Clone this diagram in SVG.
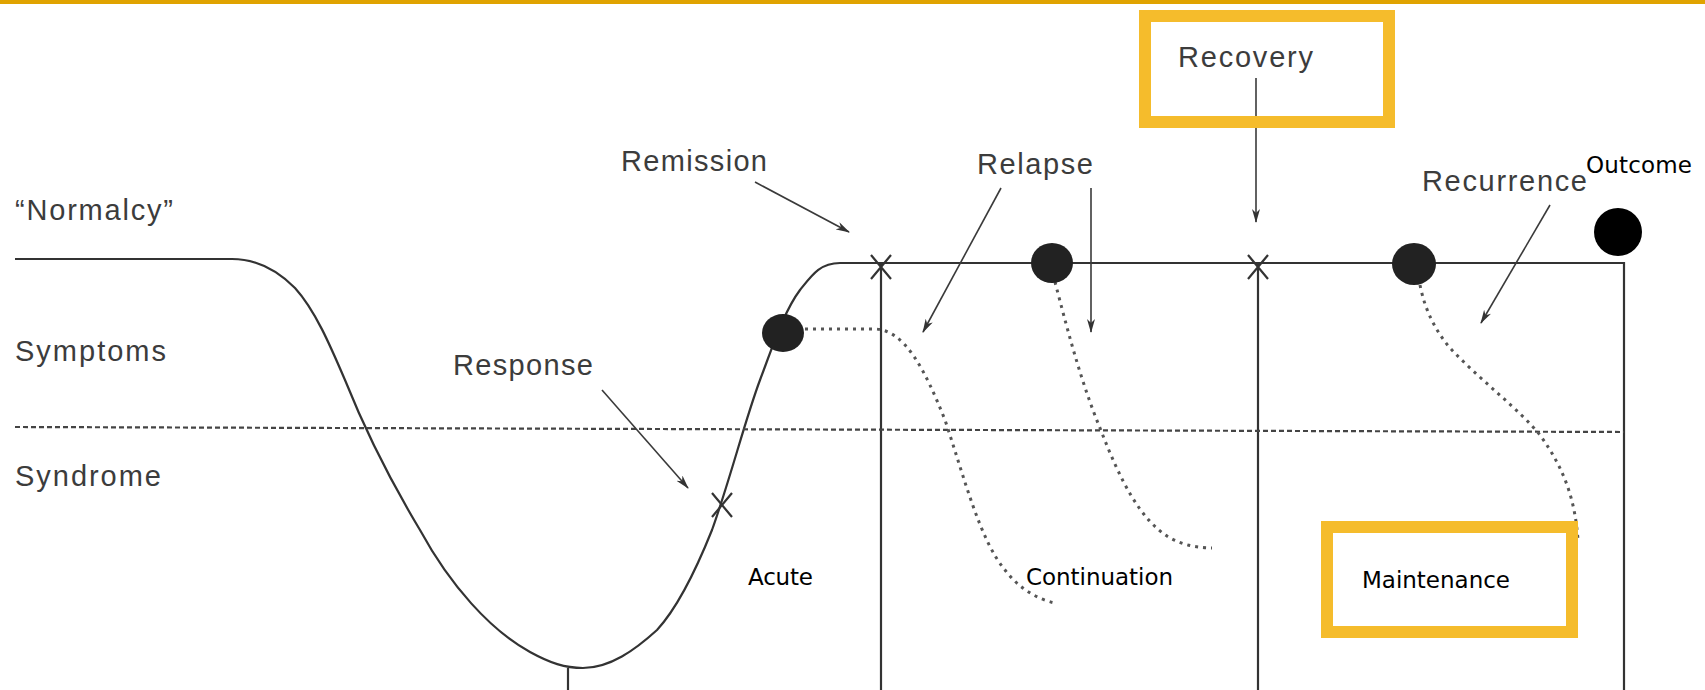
<svg xmlns="http://www.w3.org/2000/svg" width="1705" height="690" viewBox="0 0 1705 690">
<defs>
<style>
.scan{font-family:"Liberation Sans",Arial,sans-serif;font-size:29px;fill:#3c3c3c;}
.lbl{font-family:"DejaVu Sans","Noto Sans",sans-serif;font-size:23px;fill:#000;}
.ln{fill:none;stroke:#333;stroke-width:2.2;}
.arr{fill:none;stroke:#3a3a3a;stroke-width:1.6;marker-end:url(#ah);}
.dot{fill:none;stroke:#555;stroke-width:3;stroke-dasharray:3 5;}
.box{fill:none;stroke:#F5BC2C;stroke-width:12;}
.xm{stroke:#333;stroke-width:2.2;}
</style>
<marker id="ah" viewBox="0 0 14 10" refX="13" refY="5" markerWidth="14" markerHeight="10" markerUnits="userSpaceOnUse" orient="auto">
<path d="M0,1 L14,5 L0,9 L4,5 Z" fill="#333"/>
</marker>
</defs>
<rect x="0" y="0" width="1705" height="690" fill="#fff"/>
<rect x="0" y="0" width="1705" height="4" fill="#E0A300"/>

<g id="axes">
<path class="ln" d="M15,259 L232,259 C255,259 275,268 295,288 C315,310 330,345 345,380 C365,430 390,480 420,530 C450,585 490,630 530,652 C550,663 565,668 583,668 C610,668 635,650 657,630 C680,605 700,560 712,530 C730,480 745,420 760,380 C775,340 785,310 800,290 C812,275 820,263 840,263 L1624,263 L1624,690"/>
<line class="ln" x1="568" y1="668" x2="568" y2="690"/>
<line class="ln" x1="881" y1="263" x2="881" y2="690"/>
<line class="ln" x1="1258" y1="263" x2="1258" y2="690"/>
<line x1="15" y1="427" x2="1624" y2="432" stroke="#444" stroke-width="2.2" stroke-dasharray="5 3"/>
</g>

<g id="connectors">
<path class="dot" d="M805,329 L875,329 C905,330 925,370 945,420 C965,480 980,540 1005,570 C1020,590 1040,600 1055,603"/>
<path class="dot" d="M1055,282 C1065,320 1080,380 1100,428 C1120,480 1140,520 1170,538 C1185,546 1200,548 1212,548"/>
<path class="dot" d="M1420,285 C1425,310 1435,330 1450,348 C1480,380 1520,410 1540,435 C1565,470 1575,500 1578,540"/>
<line class="arr" x1="755" y1="182" x2="849" y2="232"/>
<line class="arr" x1="1001" y1="188" x2="923" y2="332"/>
<line class="arr" x1="1091" y1="188" x2="1091" y2="332"/>
<line class="arr" x1="1256" y1="78" x2="1256" y2="222"/>
<line class="arr" x1="1550" y1="205" x2="1481" y2="323"/>
<line class="arr" x1="602" y1="390" x2="688" y2="488"/>
</g>

<g id="markers">
<path class="xm" d="M871,255 L891,279 M891,255 L871,279"/>
<path class="xm" d="M1248,255 L1268,279 M1268,255 L1248,279"/>
<path class="xm" d="M712,493 L732,517 M732,493 L712,517"/>
<ellipse cx="783" cy="333" rx="21" ry="19" fill="#222"/>
<ellipse cx="1052" cy="263" rx="21" ry="20" fill="#222"/>
<ellipse cx="1414" cy="264" rx="22" ry="21" fill="#222"/>
</g>

<g id="outcome">
<circle cx="1618" cy="232" r="24" fill="#000"/>
<text class="lbl" x="1586" y="173" textLength="106">Outcome</text>
</g>

<g id="recovery">
<rect class="box" x="1145" y="16" width="244" height="106"/>
<text class="scan" x="1178" y="67" textLength="135">Recovery</text>
</g>

<g id="maintenance">
<rect class="box" x="1327" y="527" width="245" height="105"/>
<text class="lbl" x="1362" y="588" textLength="148">Maintenance</text>
</g>

<g id="labels">
<text class="scan" x="15" y="220" textLength="158">“Normalcy”</text>
<text class="scan" x="15" y="361" textLength="151">Symptoms</text>
<text class="scan" x="15" y="486" textLength="146">Syndrome</text>
<text class="scan" x="621" y="171" textLength="146">Remission</text>
<text class="scan" x="977" y="174" textLength="116">Relapse</text>
<text class="scan" x="1422" y="191" textLength="165">Recurrence</text>
<text class="scan" x="453" y="375" textLength="140">Response</text>
<text class="lbl" x="748" y="585" textLength="65">Acute</text>
<text class="lbl" x="1026" y="585" textLength="147">Continuation</text>
</g>
</svg>
